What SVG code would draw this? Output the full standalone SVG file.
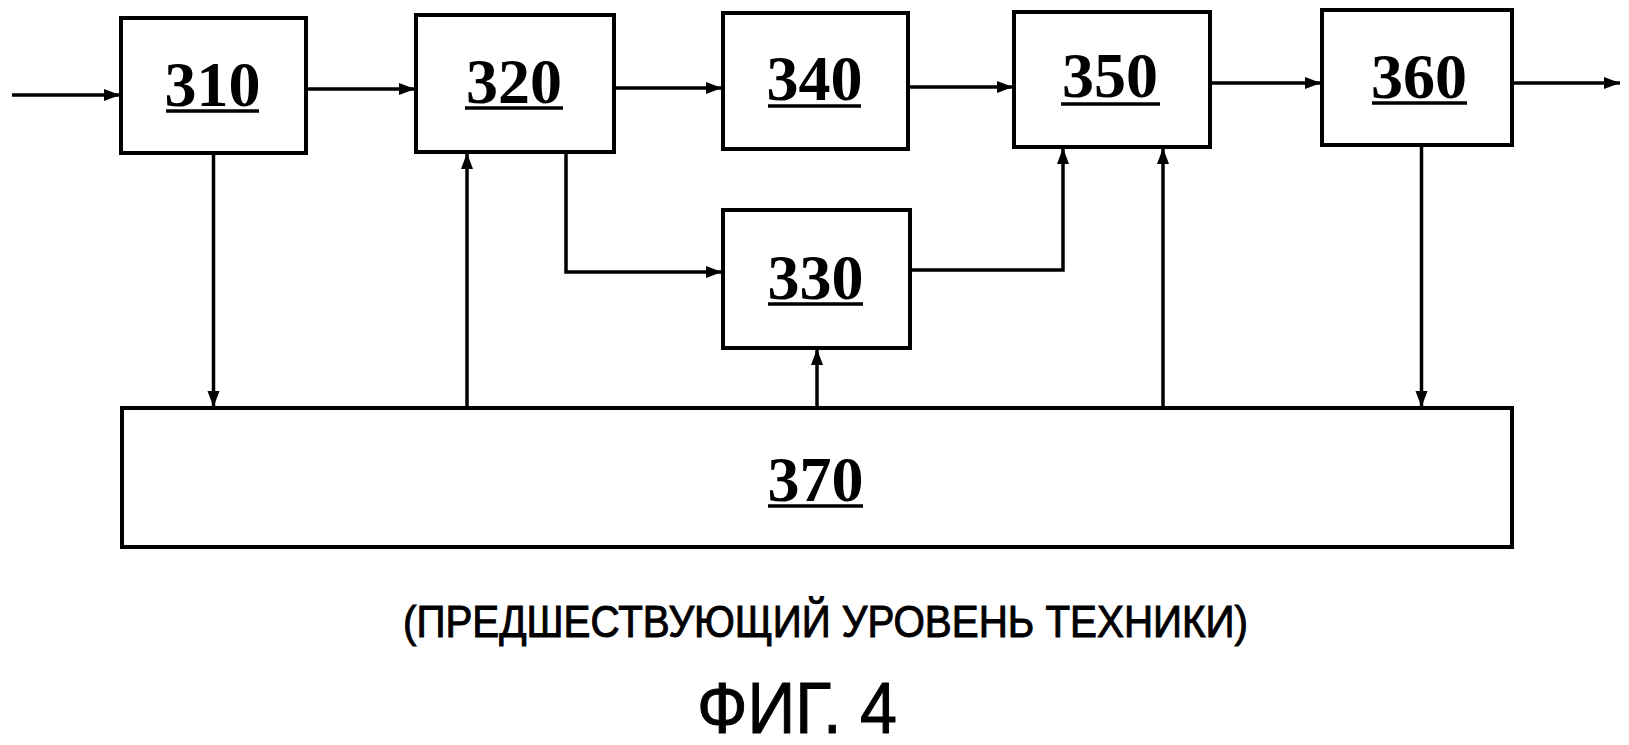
<svg xmlns="http://www.w3.org/2000/svg" width="1629" height="745" viewBox="0 0 1629 745">
<style>
.box{fill:#fff;stroke:#000;stroke-width:4}
.lbl{font-family:"Liberation Serif","Times New Roman",serif;font-size:64px;font-weight:bold;fill:#000;text-anchor:middle}
.ul{stroke:#000;stroke-width:3.5}
.c{fill:none;stroke:#000;stroke-width:3.5}
.cap{font-family:"Liberation Sans",Arial,sans-serif;fill:#000;stroke:#000;stroke-width:1}
</style>
<defs>
<marker id="ah" markerUnits="userSpaceOnUse" markerWidth="18" markerHeight="14" refX="16" refY="7" orient="auto">
<path d="M0,1 L16,7 L0,13 z" fill="#000"/>
</marker>
</defs>
<rect width="1629" height="745" fill="#fff"/>
<g id="connectors">
<line class="c" x1="12" y1="95" x2="120" y2="95" marker-end="url(#ah)"/>
<line class="c" x1="306" y1="89" x2="415" y2="89" marker-end="url(#ah)"/>
<line class="c" x1="614" y1="88" x2="722" y2="88" marker-end="url(#ah)"/>
<line class="c" x1="908" y1="87" x2="1013" y2="87" marker-end="url(#ah)"/>
<line class="c" x1="1210" y1="83" x2="1321" y2="83" marker-end="url(#ah)"/>
<line class="c" x1="1512" y1="83" x2="1620" y2="83" marker-end="url(#ah)"/>
<line class="c" x1="213.5" y1="153" x2="213.5" y2="407" marker-end="url(#ah)"/>
<line class="c" x1="467" y1="408" x2="467" y2="153" marker-end="url(#ah)"/>
<polyline class="c" points="566,152 566,272 722,272" marker-end="url(#ah)"/>
<polyline class="c" points="910,270 1063,270 1063,148" marker-end="url(#ah)"/>
<line class="c" x1="817" y1="408" x2="817" y2="349" marker-end="url(#ah)"/>
<line class="c" x1="1163" y1="408" x2="1163" y2="148" marker-end="url(#ah)"/>
<line class="c" x1="1421.5" y1="145" x2="1421.5" y2="407" marker-end="url(#ah)"/>
</g>
<g id="n310"><rect class="box" x="121" y="18" width="185" height="135"/><text class="lbl" x="212.5" y="106">310</text><line class="ul" x1="166" y1="111" x2="259" y2="111"/></g>
<g id="n320"><rect class="box" x="416" y="15" width="198" height="137"/><text class="lbl" x="514" y="103">320</text><line class="ul" x1="465" y1="108" x2="563" y2="108"/></g>
<g id="n340"><rect class="box" x="723" y="13" width="185" height="136"/><text class="lbl" x="814.5" y="100">340</text><line class="ul" x1="768" y1="106" x2="861" y2="106"/></g>
<g id="n350"><rect class="box" x="1014" y="12" width="196" height="135"/><text class="lbl" x="1110" y="97">350</text><line class="ul" x1="1061" y1="104" x2="1160" y2="104"/></g>
<g id="n360"><rect class="box" x="1322" y="10" width="190" height="135"/><text class="lbl" x="1419" y="98">360</text><line class="ul" x1="1372" y1="103" x2="1467" y2="103"/></g>
<g id="n330"><rect class="box" x="723" y="210" width="187" height="138"/><text class="lbl" x="815.5" y="299">330</text><line class="ul" x1="768" y1="304" x2="863" y2="304"/></g>
<g id="n370"><rect class="box" x="122" y="408" width="1390" height="139"/><text class="lbl" x="815.5" y="501">370</text><line class="ul" x1="768" y1="506" x2="863" y2="506"/></g>
<g id="caption">
<text class="cap" x="403" y="637" font-size="44" textLength="845" lengthAdjust="spacingAndGlyphs">(ПРЕДШЕСТВУЮЩИЙ УРОВЕНЬ ТЕХНИКИ)</text>
<text class="cap" x="697" y="733" font-size="72" textLength="200" lengthAdjust="spacingAndGlyphs" stroke-width="1.8">ФИГ. 4</text>
</g>
</svg>
